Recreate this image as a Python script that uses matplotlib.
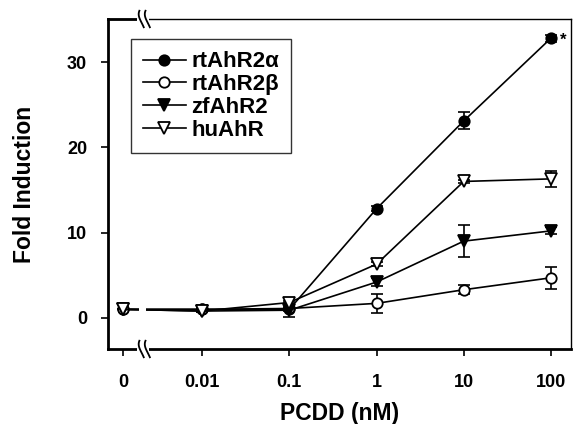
import numpy as np
import matplotlib
matplotlib.use("Agg")
import matplotlib.pyplot as plt
from matplotlib.lines import Line2D
import matplotlib.transforms as mtransforms

plt.rcParams['font.family'] = ['Liberation Sans', 'DejaVu Sans']
plt.rcParams['font.weight'] = 'bold'

# ---- data ----
doses = ["0", "0.01", "0.1", "1", "10", "100"]
dose_pos = [-2.91, -2.0, -1.0, 0.0, 1.0, 2.0]   # log10 scale, "0" placed left of break

rtAhR2a = [1.0, 1.0, 1.0, 12.8, 23.1, 32.8]
rtAhR2a_err = [0.0, 0.1, 0.2, 0.3, 1.0, 0.4]
rtAhR2b = [1.0, 1.0, 1.1, 1.7, 3.3, 4.7]
rtAhR2b_err = [0.0, 0.1, 0.2, 1.1, 0.5, 1.3]
zfAhR2 = [1.0, 0.8, 0.9, 4.2, 9.0, 10.2]
zfAhR2_err = [0.0, 0.1, 0.8, 0.5, 1.9, 0.4]
huAhR = [1.0, 0.8, 1.8, 6.3, 16.0, 16.3]
huAhR_err = [0.0, 0.1, 0.2, 0.2, 0.2, 0.9]

yticks = [0, 10, 20, 30]

fig = plt.figure(figsize=(5.73, 4.24), dpi=100)
ax = fig.add_axes([108/573, 1-349/424, (571-108)/573, (349-19)/424])

series = [
    (rtAhR2a, rtAhR2a_err, 'o', 'black', "rtAhR2α"),
    (rtAhR2b, rtAhR2b_err, 'o', 'white', "rtAhR2β"),
    (zfAhR2, zfAhR2_err, 'v', 'black', "zfAhR2"),
    (huAhR, huAhR_err, 'v', 'white', "huAhR"),
]
handles = []
for vals, err, mk, fc, lab in series:
    ax.errorbar(dose_pos, vals, yerr=err, fmt='none', ecolor='black',
                elinewidth=1.2, capsize=4, capthick=1.2, zorder=2)
    ln, = ax.plot(dose_pos, vals, color='black', lw=1.2, marker=mk,
                  markersize=8 if mk == 'v' else 7.5, markerfacecolor=fc,
                  markeredgecolor='black', markeredgewidth=1.3, zorder=3, label=lab)
    handles.append(ln)

# gap in lines at axis break
xb = -2.68
ax.axvspan(xb - 0.04, xb + 0.04, color='white', zorder=4, lw=0)

# significance star
ax.text(dose_pos[-1] + 0.1, rtAhR2a[-1] - 0.3, "*", fontsize=12, fontweight='bold',
        va='center', ha='left', zorder=5)

ax.set_xlim(-3.08, 2.23)
ax.set_ylim(-3.65, 35.05)
ax.set_xticks(dose_pos)
ax.set_xticklabels(doses, fontsize=13, fontweight='bold')
ax.set_yticks(yticks)
ax.set_yticklabels([str(v) for v in yticks], fontsize=13, fontweight='bold')
ax.tick_params(axis='x', direction='out', length=5, width=1.2, pad=13)
ax.tick_params(axis='y', direction='out', length=5, width=1.2, pad=10)

for s in ['left', 'bottom']:
    ax.spines[s].set_linewidth(2.0)
for s in ['top', 'right']:
    ax.spines[s].set_linewidth(1.0)
# thicker top-left piece before the break
trans = mtransforms.blended_transform_factory(ax.transData, ax.transAxes)
ax.add_line(Line2D([-3.08, -2.72], [1.0, 1.0], transform=trans, color='black',
                   lw=2.0, clip_on=False, zorder=5, solid_capstyle='projecting'))

# axis break marks on top and bottom spines
for y0 in [0.0, 1.0]:
    ax.add_patch(plt.Rectangle((xb - 0.07, y0 - 0.02), 0.14, 0.04, transform=trans,
                               facecolor='white', edgecolor='none', clip_on=False, zorder=6))
    t = np.linspace(-1, 1, 30)
    for dx in [-0.035, 0.035]:
        xs = xb + dx + 0.025 * np.sin(t * np.pi / 2) * -1 + 0.02 * (t ** 2)
        ys = y0 + 0.025 * t
        ax.add_line(Line2D(xs, ys, transform=trans, color='black', lw=1.3,
                           clip_on=False, zorder=7))

ax.set_xlabel("PCDD (nM)", fontsize=16.5, fontweight='bold', labelpad=8)
ax.set_ylabel("Fold Induction", fontsize=16.5, fontweight='bold', labelpad=22)

leg = ax.legend(handles=handles, loc='upper left', bbox_to_anchor=(0.05, 0.939),
                borderaxespad=0, frameon=True, fancybox=False, edgecolor='black',
                handlelength=1.9, labelspacing=0.08, borderpad=0.55, handletextpad=0.25,
                prop={'weight': 'bold', 'size': 16})
leg.get_frame().set_linewidth(1.0)
leg.set_zorder(8)

fig.savefig("out.png", dpi=100)
